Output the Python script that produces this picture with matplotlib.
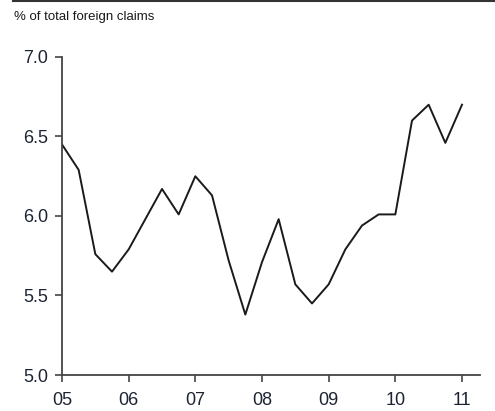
import numpy as np
from matplotlib import pyplot as plt
from matplotlib.lines import Line2D

plt.rcParams['font.family'] = ['Liberation Sans', 'DejaVu Sans']

# quarterly observations, 2005Q1 .. 2011Q1
start_year = 2005
values = [6.45, 6.29, 5.76, 5.65, 5.79, 5.98, 6.17, 6.01,
          6.25, 6.13, 5.72, 5.38, 5.71, 5.98, 5.57, 5.45,
          5.57, 5.79, 5.94, 6.01, 6.01, 6.60, 6.70, 6.46,
          6.70]
tick_years = [2005, 2006, 2007, 2008, 2009, 2010, 2011]
tick_labels = ['05', '06', '07', '08', '09', '10', '11']
y_ticks = [5.0, 5.5, 6.0, 6.5, 7.0]

x = start_year + np.arange(len(values)) / 4.0

fig = plt.figure(figsize=(4.95, 4.11), dpi=100)
ax = fig.add_axes([62 / 495, 1 - 375 / 411, (480 - 62) / 495, (375 - 57) / 411])

ax.plot(x, values, color='#1a1a1a', linewidth=1.4)

ax.set_xlim(2005, 2011.27)
ax.set_ylim(5.0, 7.0)
ax.set_xticks(tick_years)
ax.set_xticklabels(tick_labels)
ax.set_yticks(y_ticks)
ax.set_yticklabels([f'{v:.1f}' for v in y_ticks])

for side in ['top', 'right']:
    ax.spines[side].set_visible(False)
for side in ['left', 'bottom']:
    ax.spines[side].set_color('#444444')
    ax.spines[side].set_linewidth(1.3)

ax.tick_params(axis='both', direction='out', length=5, width=1.2, color='#444444',
               labelsize=13, labelcolor='#1c2333')
ax.tick_params(axis='y', pad=5)
ax.tick_params(axis='x', pad=7)

fig.text(14 / 495, 1 - 20 / 411, '% of total foreign claims', fontsize=9.5, color='#1a1a1a')
fig.add_artist(Line2D([13 / 495, 1.0], [1 - 0.8 / 411, 1 - 0.8 / 411],
                      transform=fig.transFigure, color='#333333', linewidth=1.5))

fig.savefig('out.png', dpi=100)
